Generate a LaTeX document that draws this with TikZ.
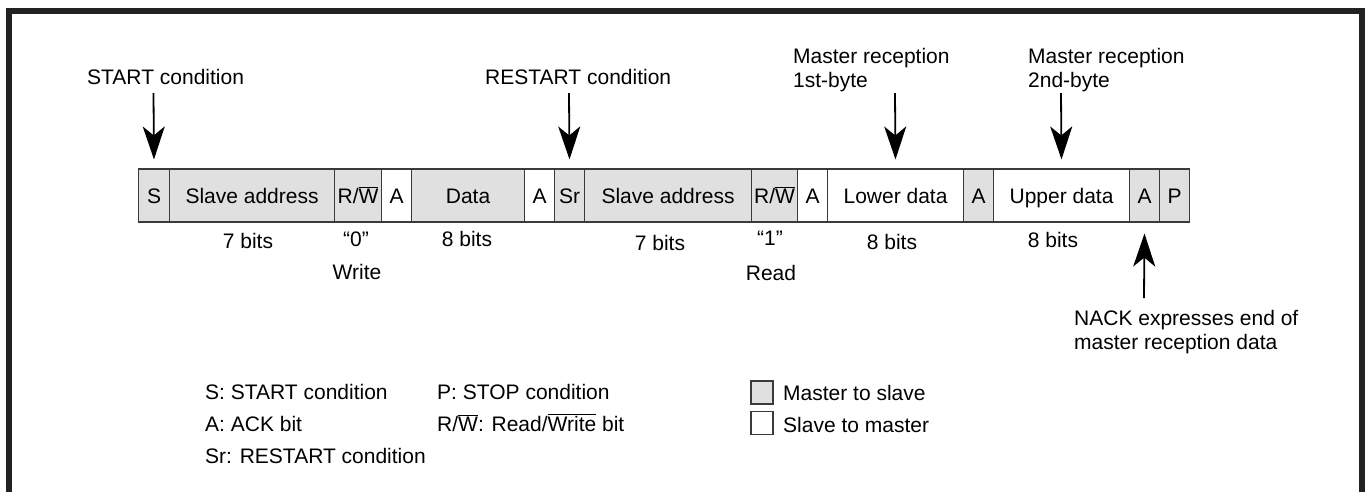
\documentclass[tikz,border=0pt]{standalone}
\usepackage{fontspec}
\setmainfont{Liberation Sans}
\usetikzlibrary{arrows.meta}
\definecolor{msfill}{HTML}{E0E0E0}
\definecolor{bord}{HTML}{3A3A3A}
\definecolor{frame}{HTML}{222222}
\newcommand{\RWbar}{R/$\overline{\mbox{W}}$}
\begin{document}
\begin{tikzpicture}[x=1pt,y=-1pt,
  font=\fontsize{21}{24}\selectfont,
  fld/.style={draw=bord, line width=1.1pt, minimum height=53pt, inner sep=0pt,
              text height=15pt, text depth=0pt, anchor=west},
  ms/.style={fld, fill=msfill},
  sm/.style={fld, fill=white},
  lbl/.style={anchor=base, inner sep=0pt},
  txt/.style={anchor=base west, inner sep=0pt},
  mtxt/.style={anchor=north west, inner sep=0pt, align=left},
  arr/.style={-{Stealth[length=33pt,width=22pt,inset=9pt]}, line width=1.8pt},
  key/.style={draw=bord, line width=1.1pt, minimum width=22pt, minimum height=23pt, inner sep=0pt},
]
\useasboundingbox (0,0) rectangle (1369,491);
\draw[frame, line width=5.5pt, line join=miter] (9,520) -- (9,11) -- (1362,11) -- (1362,520);

% frame row
\node[ms, minimum width=31pt]  (f1)  at (138,195.5) {S};
\node[ms, minimum width=165pt] (f2)  at (169,195.5) {Slave address};
\node[ms, minimum width=47pt]  (f3)  at (334,195.5) {\RWbar};
\node[sm, minimum width=30pt]  (f4)  at (381,195.5) {A};
\node[ms, minimum width=113pt] (f5)  at (411,195.5) {Data};
\node[sm, minimum width=30pt]  (f6)  at (524,195.5) {A};
\node[ms, minimum width=30pt]  (f7)  at (554,195.5) {Sr};
\node[ms, minimum width=167pt] (f8)  at (584,195.5) {Slave address};
\node[ms, minimum width=46pt]  (f9)  at (751,195.5) {\RWbar};
\node[sm, minimum width=30pt]  (f10) at (797,195.5) {A};
\node[sm, minimum width=136pt] (f11) at (827,195.5) {Lower data};
\node[ms, minimum width=30pt]  (f12) at (963,195.5) {A};
\node[sm, minimum width=136pt] (f13) at (993,195.5) {Upper data};
\node[ms, minimum width=30pt]  (f14) at (1129,195.5) {A};
\node[ms, minimum width=30pt]  (f15) at (1159,195.5) {P};

% labels under the frame
\node[lbl] (b1) at (248,248) {7 bits};
\node[lbl] (q0) at (356,246) {“0”};
\node[lbl] (wr) at (357,279) {Write};
\node[lbl] (b2) at (467,246) {8 bits};
\node[lbl] (b3) at (660,250) {7 bits};
\node[lbl] (q1) at (770,245) {“1”};
\node[lbl] (rd) at (771,280) {Read};
\node[lbl] (b4) at (892,249) {8 bits};
\node[lbl] (b5) at (1053,247) {8 bits};

% annotations above
\node[txt] (tstart) at (87,84) {START condition};
\node[txt] (trestart) at (485,84) {RESTART condition};
\node[mtxt] (tm1) at (793,48) {Master reception\\1st-byte};
\node[mtxt] (tm2) at (1028,48) {Master reception\\2nd-byte};
\node[mtxt] (tnack) at (1074,310) {NACK expresses end of\\master reception data};

\coordinate (c1) at (153.5,93);
\coordinate (c2) at (569,93);
\coordinate (c3) at (895,93);
\coordinate (c4) at (1061,93);
\coordinate (c5) at (1144,298);
\draw[arr, shorten >=9pt] (c1) -- (f1.north);
\draw[arr, shorten >=9pt] (c2) -- (f7.north);
\draw[arr, shorten >=9pt] (c3) -- (f11.north);
\draw[arr, shorten >=9pt] (c4) -- (f13.north);
\draw[arr, shorten >=11pt] (c5) -- (f14.south);

% legend
\node[txt] (l1) at (205,399) {S: START condition};
\node[txt] (l2) at (205,431) {A: ACK bit};
\node[txt] (l3) at (205,463) {Sr: RESTART condition};
\node[txt] (l4) at (437,399) {P: STOP condition};
\node[txt] (l5) at (437,431) {\RWbar: Read/$\overline{\mbox{Write}}$ bit};

\node[key, fill=msfill] (k1) at (762,392.5) {};
\node[key, fill=white]  (k2) at (762,423) {};
\node[txt] (k1t) at (783,400) {Master to slave};
\node[txt] (k2t) at (783,432) {Slave to master};
\end{tikzpicture}
\end{document}
